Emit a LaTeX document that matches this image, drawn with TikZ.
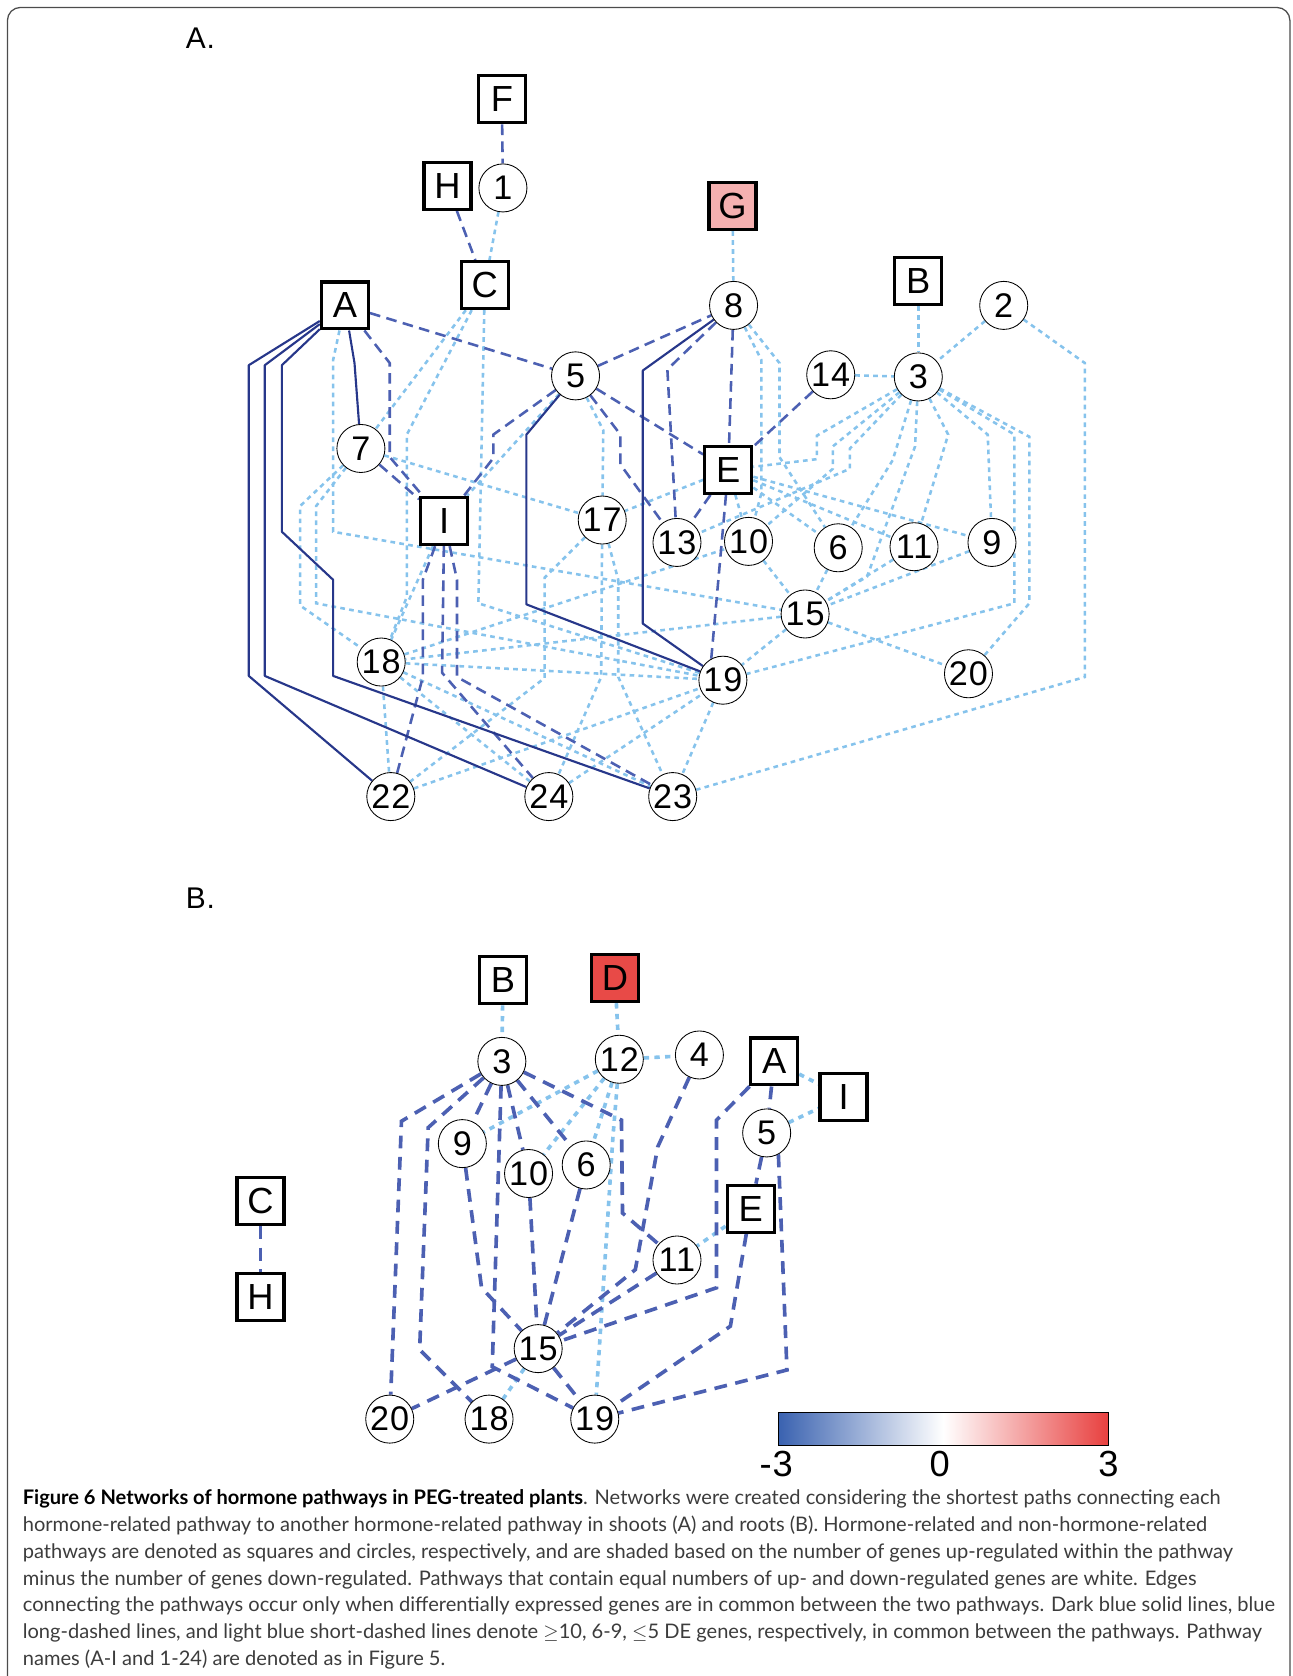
\documentclass[tikz,border=0pt]{standalone}
\usepackage{fontspec}
\setmainfont{Lato}
\newfontfamily\netfont[LetterSpace=3]{Liberation Sans}
\usepackage{xcolor}
\usepackage{tikz}
\usetikzlibrary{calc}
\usetikzlibrary{backgrounds}

\definecolor{navyline}{RGB}{39,55,138}
\definecolor{midline}{RGB}{76,96,178}
\definecolor{lightline}{RGB}{134,195,236}
\definecolor{pinkfill}{RGB}{245,176,176}
\definecolor{redfill}{RGB}{232,74,71}
\definecolor{cbblue}{RGB}{58,98,176}
\definecolor{cbred}{RGB}{232,64,63}
\definecolor{captext}{RGB}{60,60,60}

\tikzset{
	hormone/.style={draw,fill=white,line width=1.5pt,minimum size=22pt,inner sep=0pt,font=\netfont\fontsize{17}{17}\selectfont},
	pway/.style={draw,circle,fill=white,line width=0.4pt,minimum size=22.5pt,inner sep=0pt,font=\netfont\fontsize{16}{16}\selectfont},
	edgestrong/.style={navyline,line width=1pt,line join=round},
	edgemid/.style={midline,line width=1.2pt,dash pattern=on 5pt off 3pt},
	edgeweak/.style={lightline,line width=1.2pt,dash pattern=on 2.2pt off 2pt},
	rootmid/.style={midline,line width=1.7pt,dash pattern=on 6pt off 4pt},
	rootweak/.style={lightline,line width=1.7pt,dash pattern=on 2.5pt off 2.5pt}
}

\begin{document}
\begin{tikzpicture}[x=0.5pt,y=-0.5pt]
	\useasboundingbox (0,0) rectangle (1210,1569.6);
	\draw[gray!60!black,line width=0.6pt,rounded corners=6pt] (7,7) rectangle (1208,1600);

	% panel labels
	\node[anchor=west,font=\netfont\fontsize{14}{14}\selectfont] (labA) at (167,36) {A.};
	\node[anchor=west,font=\netfont\fontsize{14}{14}\selectfont] (labB) at (167,841) {B.};

	% shoots (A)
	\node[hormone] (sF) at (470,93) {F};
	\node[hormone] (sH) at (419,174) {H};
	\node[pway] (s1) at (471,176) {1};
	\node[hormone,fill=pinkfill] (sG) at (686,193) {G};
	\node[hormone] (sC) at (454,267) {C};
	\node[hormone] (sA) at (323,286) {A};
	\node[pway] (s8) at (687,286) {8};
	\node[hormone] (sB) at (860,263) {B};
	\node[pway] (s2) at (940,286) {2};
	\node[pway] (s5) at (539,352) {5};
	\node[pway] (s14) at (778,351) {14};
	\node[pway] (s3) at (860,353) {3};
	\node[pway] (s7) at (338,420) {7};
	\node[hormone] (sE) at (682,440) {E};
	\node[hormone] (sI) at (416,488) {I};
	\node[pway] (s17) at (564,487) {17};
	\node[pway] (s13) at (634,508) {13};
	\node[pway] (s10) at (701,507) {10};
	\node[pway] (s6) at (785,513) {6};
	\node[pway] (s11) at (856,512) {11};
	\node[pway] (s9) at (929,508) {9};
	\node[pway] (s15) at (754,575) {15};
	\node[pway] (s18) at (357,620) {18};
	\node[pway] (s19) at (677,637) {19};
	\node[pway] (s20) at (907,631) {20};
	\node[pway] (s22) at (366,746) {22};
	\node[pway] (s24) at (514,746) {24};
	\node[pway] (s23) at (630,746) {23};

	% roots (B)
	\node[hormone] (rB) at (471,918) {B};
	\node[hormone,fill=redfill] (rD) at (576,916) {D};
	\node[pway] (r3) at (470,994) {3};
	\node[pway] (r12) at (580,992) {12};
	\node[pway] (r4) at (655,988) {4};
	\node[hormone] (rA) at (725,994) {A};
	\node[hormone] (rI) at (790,1027) {I};
	\node[pway] (r9) at (433,1071) {9};
	\node[pway] (r5) at (718,1061) {5};
	\node[pway] (r10) at (495,1099) {10};
	\node[pway] (r6) at (549,1091) {6};
	\node[hormone] (rC) at (244,1125) {C};
	\node[hormone] (rE) at (703,1132) {E};
	\node[pway] (r11) at (634,1180) {11};
	\node[hormone] (rH) at (244,1215) {H};
	\node[pway] (r15) at (504,1263) {15};
	\node[pway] (r20) at (365,1329) {20};
	\node[pway] (r18) at (458,1329) {18};
	\node[pway] (r19) at (557,1329) {19};

	\begin{scope}[on background layer]
		% shoots, light blue short dashes
		\draw[edgeweak] (s1)--(sC);
		\draw[edgeweak] (sG)--(s8);
		\draw[edgeweak] (sB)--(s3);
		\draw[edgeweak] (s2)--(s3);
		\draw[edgeweak] (s14)--(s3);
		\draw[edgeweak] (sC)--(s7);
		\draw[edgeweak] (sC)--(381,407)--(381,559)--(s18);
		\draw[edgeweak] (sC)--(448,565)--(s19);
		\draw[edgeweak] (sA)--(312,337)--(312,498)--(s15);
		\draw[edgeweak] (s7)--(s17);
		\draw[edgeweak] (s7)--(281,474)--(281,567)--(s18);
		\draw[edgeweak] (s7)--(296,474)--(296,565)--(s19);
		\draw[edgeweak] (s5)--(565,403)--(s17);
		\draw[edgeweak] (s5)--(sI);
		\draw[edgeweak] (sI)--(s18);
		\draw[edgeweak] (s8)--(713,337)--(713,462)--(s10);
		\draw[edgeweak] (s8)--(730,340)--(730,428)--(s6);
		\draw[edgeweak] (s3)--(765,408)--(765,430)--(sE);
		\draw[edgeweak] (s3)--(780,418)--(780,439)--(s10);
		\draw[edgeweak] (s3)--(796,420)--(796,439)--(s13);
		\draw[edgeweak] (s3)--(836,431)--(s6);
		\draw[edgeweak] (s3)--(857,418)--(812,540)--(s15);
		\draw[edgeweak] (s3)--(888,407)--(s11);
		\draw[edgeweak] (s3)--(925,407)--(s9);
		\draw[edgeweak] (s3)--(950,407)--(950,565)--(s19);
		\draw[edgeweak] (s3)--(964,409)--(964,565)--(s20);
		\draw[edgeweak] (s2)--(1016,340)--(1016,634)--(s23);
		\draw[edgeweak] (sE)--(s9);
		\draw[edgeweak] (sE)--(s11);
		\draw[edgeweak] (sE)--(s6);
		\draw[edgeweak] (sE)--(s10);
		\draw[edgeweak] (sE)--(s17);
		\draw[edgeweak] (s10)--(s15);
		\draw[edgeweak] (s6)--(s15);
		\draw[edgeweak] (s11)--(s15);
		\draw[edgeweak] (s9)--(s15);
		\draw[edgeweak] (s15)--(s20);
		\draw[edgeweak] (s15)--(s19);
		\draw[edgeweak] (s15)--(s18);
		\draw[edgeweak] (s17)--(510,541)--(510,635)--(s22);
		\draw[edgeweak] (s17)--(563,634)--(s24);
		\draw[edgeweak] (s17)--(579,543)--(579,634)--(s23);
		\draw[edgeweak] (s18)--(s19);
		\draw[edgeweak] (s18)--(s22);
		\draw[edgeweak] (s18)--(s24);
		\draw[edgeweak] (s18)--(s23);
		\draw[edgeweak] (s18)--(s10);
		\draw[edgeweak] (s22)--(s19);
		\draw[edgeweak] (s24)--(s19);
		\draw[edgeweak] (s19)--(s23);

		% shoots, blue long dashes
		\draw[edgemid] (sF)--(s1);
		\draw[edgemid] (sH)--(sC);
		\draw[edgemid] (sA)--(s5);
		\draw[edgemid] (sA)--(365,340)--(365,428)--(sI);
		\draw[edgemid] (s7)--(sI);
		\draw[edgemid] (s5)--(s8);
		\draw[edgemid] (s5)--(sE);
		\draw[edgemid] (s5)--(462,407)--(462,429)--(sI);
		\draw[edgemid] (s5)--(581,407)--(581,435)--(s13);
		\draw[edgemid] (s8)--(sE);
		\draw[edgemid] (s8)--(625,346)--(s13);
		\draw[edgemid] (s14)--(sE);
		\draw[edgemid] (sE)--(s13);
		\draw[edgemid] (sE)--(666,618)--(s19);
		\draw[edgemid] (sI)--(396,543)--(396,634)--(s22);
		\draw[edgemid] (sI)--(414,630)--(s24);
		\draw[edgemid] (sI)--(428,543)--(428,634)--(s23);

		% shoots, dark solid
		\draw[edgestrong] (sA)--(233,342)--(233,633)--(s22);
		\draw[edgestrong] (sA)--(248,342)--(248,633)--(s24);
		\draw[edgestrong] (sA)--(264,342)--(264,498)--(312,543)--(312,633)--(s23);
		\draw[edgestrong] (sA)--(332,340)--(s7);
		\draw[edgestrong] (s5)--(493,407)--(493,566)--(s19);
		\draw[edgestrong] (s8)--(602,347)--(602,584)--(s19);

		% roots
		\draw[rootweak] (rB)--(r3);
		\draw[rootweak] (rD)--(r12);
		\draw[rootweak] (r12)--(r4);
		\draw[rootweak] (rA)--(rI);
		\draw[rootweak] (r5)--(rI);
		\draw[rootweak] (rE)--(r11);
		\draw[rootweak] (r12)--(r9);
		\draw[rootweak] (r12)--(r10);
		\draw[rootweak] (r12)--(r6);
		\draw[rootweak] (r12)--(574,1065)--(r19);
		\draw[rootweak] (r15)--(r18);

		\draw[rootmid] (rC)--(rH);
		\draw[rootmid] (r3)--(376,1050)--(r20);
		\draw[rootmid] (r3)--(401,1056)--(393,1264)--(r18);
		\draw[rootmid] (r3)--(r9);
		\draw[rootmid] (r3)--(r10);
		\draw[rootmid] (r3)--(r6);
		\draw[rootmid] (r3)--(461,1280)--(r19);
		\draw[rootmid] (r3)--(582,1049)--(583,1136)--(r11);
		\draw[rootmid] (r9)--(451,1206)--(r15);
		\draw[rootmid] (r10)--(r15);
		\draw[rootmid] (r6)--(r15);
		\draw[rootmid] (r11)--(r15);
		\draw[rootmid] (r4)--(616,1074)--(595,1189)--(r15);
		\draw[rootmid] (rA)--(671,1049)--(671,1206)--(r15);
		\draw[rootmid] (rA)--(r5);
		\draw[rootmid] (r5)--(rE);
		\draw[rootmid] (r5)--(729,1082)--(737,1283)--(r19);
		\draw[rootmid] (rE)--(684,1242)--(r19);
		\draw[rootmid] (r15)--(r19);
		\draw[rootmid] (r15)--(r20);
	\end{scope}

	% colour key
	\shade[left color=cbblue,right color=cbred,middle color=white] (729,1323) rectangle (1038,1354);
	\draw[line width=0.6pt] (729,1323) rectangle (1038,1354);
	\node[font=\netfont\fontsize{17}{17}\selectfont] (keylo) at (727,1371) {-3};
	\node[font=\netfont\fontsize{17}{17}\selectfont] (keymid) at (880,1371) {0};
	\node[font=\netfont\fontsize{17}{17}\selectfont] (keyhi) at (1038,1371) {3};

	% caption
	\node[anchor=north west,inner sep=0pt,align=left,text=captext,font=\fontsize{9.4}{12.5}\selectfont] (cap) at (21,1395) {%
		{\color{black}\textbf{Figure 6 Networks of hormone pathways in PEG-treated plants}}. Networks were created considering the shortest paths connecting each\\
		hormone-related pathway to another hormone-related pathway in shoots (A) and roots (B). Hormone-related and non-hormone-related\\
		pathways are denoted as squares and circles, respectively, and are shaded based on the number of genes up-regulated within the pathway\\
		minus the number of genes down-regulated. Pathways that contain equal numbers of up- and down-regulated genes are white. Edges\\
		connecting the pathways occur only when differentially expressed genes are in common between the two pathways. Dark blue solid lines, blue\\
		long-dashed lines, and light blue short-dashed lines denote $\geq$10, 6-9, $\leq$5 DE genes, respectively, in common between the pathways. Pathway\\
		names (A-I and 1-24) are denoted as in Figure 5.};
\end{tikzpicture}
\end{document}
